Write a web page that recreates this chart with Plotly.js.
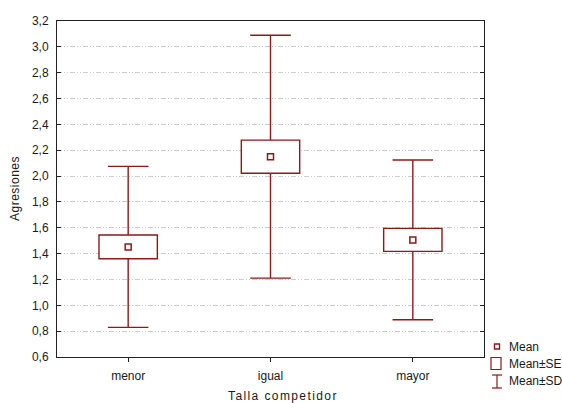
<!DOCTYPE html>
<html>
<head>
<meta charset="utf-8">
<script src="https://cdn.plot.ly/plotly-3.0.1.min.js"></script>
<style>
html,body{margin:0;padding:0;background:#fff;}
#chart{width:562px;height:403px;}
</style>
</head>
<body>
<div id="chart"></div>
<script>
// Data
var categories = ['menor', 'igual', 'mayor'];
var means = [1.452, 2.150, 1.506];
var seVals = [0.092, 0.128, 0.089];
var sdVals = [0.623, 0.940, 0.618];
var yTickVals = [0.6, 0.8, 1.0, 1.2, 1.4, 1.6, 1.8, 2.0, 2.2, 2.4, 2.6, 2.8, 3.0, 3.2];
var legendLabels = ['Mean', 'Mean±SE', 'Mean±SD'];

var RED = '#8b1a1a';
var TXT = '#1a1a1a';
var FONT = 'Liberation Sans, Arial, sans-serif';

var seBase = [], seSpan = [], wx = [], wy = [], capX = [], capY = [];
for (var i = 0; i < categories.length; i++) {
  seBase.push(means[i] - seVals[i]);
  seSpan.push(2 * seVals[i]);
  // upper whisker
  wx.push(categories[i], categories[i], null);
  wy.push(means[i] + seVals[i], means[i] + sdVals[i], null);
  // lower whisker
  wx.push(categories[i], categories[i], null);
  wy.push(means[i] - seVals[i], means[i] - sdVals[i], null);
  capX.push(categories[i], categories[i]);
  capY.push(means[i] + sdVals[i], means[i] - sdVals[i]);
}

var seBoxes = {
  type: 'bar',
  x: categories, base: seBase, y: seSpan,
  width: 0.41,
  marker: {color: '#ffffff', line: {color: RED, width: 1.4}},
  hoverinfo: 'skip', showlegend: false
};

var whiskers = {
  type: 'scatter', mode: 'lines',
  x: wx, y: wy, connectgaps: false,
  line: {color: RED, width: 1.4},
  hoverinfo: 'skip', showlegend: false
};

var caps = {
  type: 'scatter', mode: 'markers',
  x: capX, y: capY,
  marker: {symbol: 'line-ew', size: 29, color: RED, line: {color: RED, width: 1.4}},
  hoverinfo: 'skip', showlegend: false
};

var meanTrace = {
  type: 'scatter', mode: 'markers',
  x: categories, y: means,
  marker: {symbol: 'square', size: 6, color: '#ffffff', line: {color: RED, width: 1.5}},
  showlegend: false, hoverinfo: 'skip'
};

// pixel -> paper helpers for legend / titles (plot area 57..484 x 21..357)
var L = 57, R = 484, T = 21, B = 357;
function px(x) { return (x - L) / (R - L); }
function py(y) { return (B - y) / (B - T); }

var shapes = [
  {type: 'rect', xref: 'paper', yref: 'paper', x0: px(494.5), x1: px(499.5), y0: py(349), y1: py(344), line: {color: RED, width: 1.4}, fillcolor: '#fff'},
  {type: 'rect', xref: 'paper', yref: 'paper', x0: px(491), x1: px(501), y0: py(369.5), y1: py(357.5), line: {color: RED, width: 1.2}, fillcolor: '#fff'},
  {type: 'line', xref: 'paper', yref: 'paper', x0: px(497), x1: px(497), y0: py(375), y1: py(388), line: {color: RED, width: 1.2}},
  {type: 'line', xref: 'paper', yref: 'paper', x0: px(492), x1: px(502), y0: py(375), y1: py(375), line: {color: RED, width: 1.2}},
  {type: 'line', xref: 'paper', yref: 'paper', x0: px(492), x1: px(502), y0: py(388), y1: py(388), line: {color: RED, width: 1.2}}
];

var legendY = [346.5, 363.5, 381];
var annotations = [];
for (var k = 0; k < legendLabels.length; k++) {
  annotations.push({
    xref: 'paper', yref: 'paper', x: px(507), y: py(legendY[k]),
    xanchor: 'left', yanchor: 'middle', showarrow: false,
    text: legendLabels[k], font: {family: FONT, size: 12, color: TXT}
  });
}
annotations.push({
  xref: 'paper', yref: 'paper', x: px(283), y: py(396),
  xanchor: 'center', yanchor: 'middle', showarrow: false,
  text: '<span style="letter-spacing:1.4px">Talla competidor</span>',
  font: {family: FONT, size: 12, color: TXT}
});
annotations.push({
  xref: 'paper', yref: 'paper', x: px(15), y: 0.5,
  xanchor: 'center', yanchor: 'middle', showarrow: false, textangle: -90,
  text: '<span style="letter-spacing:0.5px">Agresiones</span>',
  font: {family: FONT, size: 12, color: TXT}
});

var layout = {
  width: 562, height: 403,
  margin: {l: L, r: 562 - R, t: T, b: 403 - B, pad: 0},
  paper_bgcolor: '#fff', plot_bgcolor: '#fff',
  separators: ',.',
  showlegend: false,
  font: {family: FONT, size: 12, color: TXT},
  xaxis: {
    type: 'category', range: [-0.5, 2.5],
    showline: true, linecolor: '#222', linewidth: 1, mirror: true,
    ticks: 'outside', ticklen: 4, tickcolor: '#222',
    showgrid: false, zeroline: false,
    tickfont: {family: FONT, size: 12, color: TXT},
    ticklabelstandoff: 4
  },
  xaxis2: {
    overlaying: 'x', side: 'top', range: [-0.5, 2.5],
    tickvals: [0, 1, 2], ticks: 'inside', ticklen: 4, tickcolor: '#222',
    showticklabels: false, showgrid: false, showline: false, zeroline: false
  },
  yaxis: {
    range: [0.6, 3.2], tickvals: yTickVals, tickformat: '.1f',
    showline: true, linecolor: '#222', linewidth: 1, mirror: 'ticks',
    ticks: 'inside', ticklen: 4, tickcolor: '#222',
    showgrid: true, gridcolor: '#cccccc', gridwidth: 1, griddash: '5px,2px,1px,2px,1px,2px',
    zeroline: false,
    tickfont: {family: FONT, size: 12, color: TXT},
    ticklabelstandoff: 5
  },
  shapes: shapes,
  annotations: annotations
};

Plotly.newPlot('chart', [seBoxes, whiskers, caps, meanTrace], layout, {staticPlot: true, displayModeBar: false});
</script>
</body>
</html>
